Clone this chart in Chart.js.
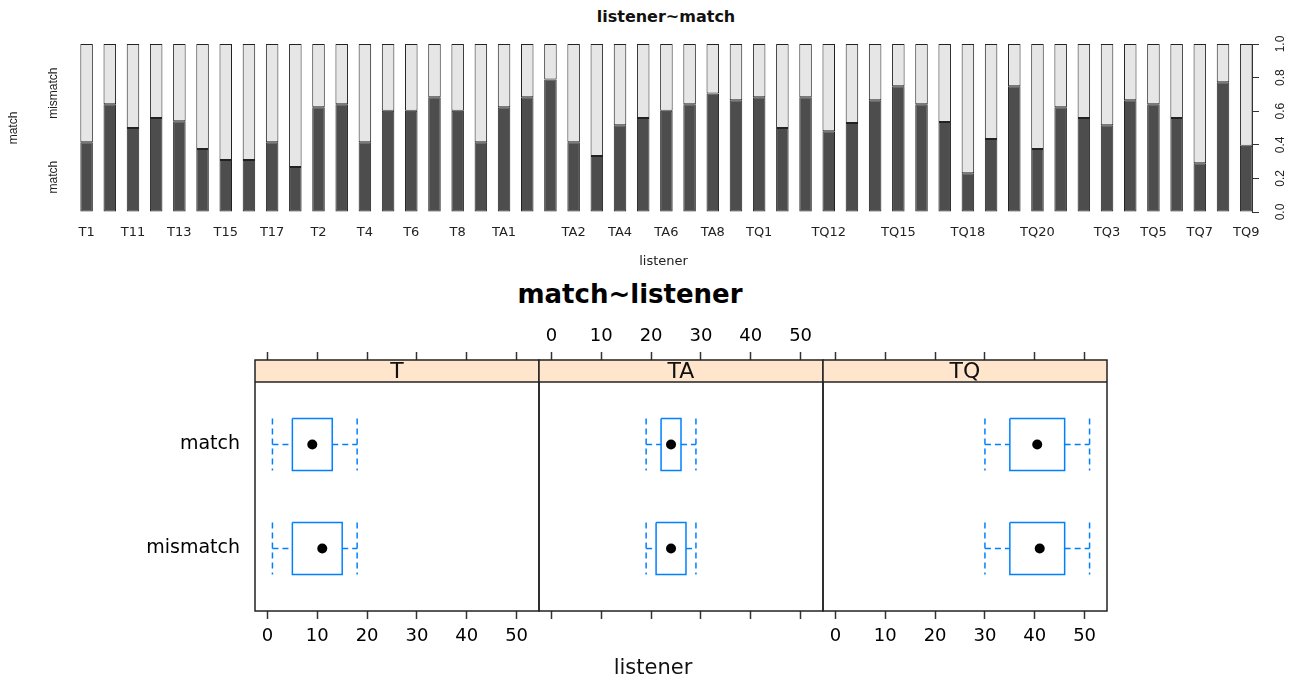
<!DOCTYPE html>
<html><head><meta charset="utf-8">
<script src="https://cdn.jsdelivr.net/npm/chart.js@4/dist/chart.umd.min.js"></script>
<style>
html,body{margin:0;padding:0;background:#fff;}
#wrap{position:relative;width:1298px;height:680px;overflow:hidden;background:#fff;}
canvas{position:absolute;}
.t{position:absolute;white-space:nowrap;font-family:"DejaVu Sans";line-height:1;color:#000;transform:translateX(-50%);}
</style></head><body>
<div id="wrap">
  <div class="t" style="left:666px;top:9px;font-size:16px;font-weight:bold;color:#111;">listener~match</div>
  <canvas id="top" width="1298" height="275" style="left:0;top:0;width:1298px;height:275px"></canvas>
  <div class="t" style="left:630px;top:281px;font-size:26px;font-weight:bold;">match~listener</div>
  <canvas id="pT" width="445" height="360" style="left:100px;top:300px;width:445px;height:360px"></canvas>
  <canvas id="pTA" width="296" height="360" style="left:533px;top:300px;width:296px;height:360px"></canvas>
  <canvas id="pTQ" width="296" height="360" style="left:817px;top:300px;width:296px;height:360px"></canvas>
  <div class="t" style="left:653px;top:657px;font-size:21px;color:#111;">listener</div>
</div>
<script>
// ---------- data: top spineplot ----------
const listeners = ['T1','T10','T11','T12','T13','T14','T15','T16','T17','T18','T2','T3','T4','T5','T6','T7','T8','T9',
  'TA1','TA10','TA11','TA2','TA3','TA4','TA5','TA6','TA7','TA8','TA9',
  'TQ1','TQ10','TQ11','TQ12','TQ13','TQ14','TQ15','TQ16','TQ17','TQ18','TQ19','TQ2','TQ20','TQ21','TQ22','TQ3','TQ4','TQ5','TQ6','TQ7','TQ8','TQ9'];
const matchShare = [0.415,0.641,0.5,0.56,0.54,0.375,0.31,0.31,0.415,0.268,0.623,0.641,0.415,0.603,0.603,0.683,0.603,0.415,
  0.623,0.683,0.788,0.415,0.333,0.516,0.56,0.603,0.641,0.706,0.665,
  0.683,0.5,0.683,0.48,0.53,0.665,0.748,0.641,0.536,0.23,0.435,0.748,0.375,0.623,0.56,0.516,0.665,0.641,0.56,0.29,0.772,0.395];
const mismatchShare = matchShare.map(v => +(1 - v).toFixed(3));
const shownListenerLabels = ['T1','T11','T13','T15','T17','T2','T4','T6','T8','TA1','TA2','TA4','TA6','TA8','TQ1','TQ12','TQ15','TQ18','TQ20','TQ3','TQ5','TQ7','TQ9'];
const propTicks = [0, 0.2, 0.4, 0.6, 0.8, 1.0];
const matchLevels = ['match', 'mismatch'];

// ---------- data: bottom bwplot (min, q1, median, q3, max) ----------
const panels = ['T', 'TA', 'TQ'];
const T_match = [1, 5, 9, 13, 18];
const T_mismatch = [1, 5, 11, 15, 18];
const TA_match = [19, 22, 24, 26, 29];
const TA_mismatch = [19, 21, 24, 27, 29];
const TQ_match = [30, 35, 40.5, 46, 51];
const TQ_mismatch = [30, 35, 41, 46, 51];
const listenerTicks = [0, 10, 20, 30, 40, 50];

// ---------- top chart ----------
const spineLabels = {
  id: 'spineLabels',
  afterDraw(chart) {
    const {ctx, chartArea: a, scales: {y}} = chart;
    const rot = (txt, x, yy) => { ctx.save(); ctx.translate(x, yy); ctx.rotate(-Math.PI / 2); ctx.fillText(txt, 0, 0); ctx.restore(); };
    ctx.save();
    ctx.fillStyle = '#222';
    ctx.font = '12px "Liberation Sans"';
    ctx.textAlign = 'center';
    ctx.textBaseline = 'middle';
    propTicks.forEach(v => rot(v.toFixed(1), a.right + 29, y.getPixelForValue(v)));
    const first = matchShare[0];
    rot(matchLevels[0], a.left - 21.5, y.getPixelForValue(first / 2));
    rot(matchLevels[1], a.left - 21.5, y.getPixelForValue((first + 1) / 2));
    rot('match', a.left - 61, (a.top + a.bottom) / 2);
    ctx.restore();
  }
};

new Chart(document.getElementById('top'), {
  type: 'bar',
  data: {
    datasets: [
      {label: 'match', data: listeners.map((c, i) => ({x: i, y: matchShare[i]})),
       backgroundColor: '#4d4d4d', borderColor: '#222', borderWidth: 1, borderSkipped: false},
      {label: 'mismatch', data: listeners.map((c, i) => ({x: i, y: mismatchShare[i]})),
       backgroundColor: '#e6e6e6', borderColor: '#222', borderWidth: 1, borderSkipped: false}
    ]
  },
  options: {
    responsive: false, animation: false,
    layout: {padding: {left: 75, top: 44, right: 0, bottom: 0}},
    datasets: {bar: {categoryPercentage: 1, barPercentage: 0.54}},
    plugins: {legend: {display: false}, tooltip: {enabled: false}},
    scales: {
      x: {
        type: 'linear', stacked: true, offset: false, min: -0.5, max: 50.25,
        afterBuildTicks: s => { s.ticks = shownListenerLabels.map(l => ({value: listeners.indexOf(l)})); },
        afterFit: s => { s.height = 63; s.paddingLeft = 0; s.paddingRight = 0; },
        grid: {display: false, drawTicks: false, offset: false}, border: {display: false},
        ticks: {autoSkip: false, maxRotation: 0, minRotation: 0, padding: 13,
                font: {family: 'DejaVu Sans', size: 13}, color: '#222',
                callback: v => listeners[v]},
        title: {display: true, text: 'listener', font: {family: 'DejaVu Sans', size: 13}, color: '#222',
                padding: {top: 0, bottom: 6}}
      },
      y: {
        position: 'right', stacked: true, min: 0, max: 1,
        afterBuildTicks: s => { s.ticks = propTicks.map(v => ({value: v})); },
        afterFit: s => { s.width = 46; s.paddingTop = 0; s.paddingBottom = 0; },
        grid: {drawOnChartArea: false, tickLength: 7, tickColor: '#333', tickWidth: 1},
        border: {display: true, color: '#333', width: 1},
        ticks: {callback: () => ''}
      }
    }
  },
  plugins: [spineLabels]
});

// ---------- bottom panels ----------
const BOX_HALF = 0.25;
const Y_TOP = 0.4, Y_BOTTOM = 2.6;
const STRIP_UNITS = 22 / (229 / 2.2);
const boxBlue = '#0080ff';

function panelDatasets(stats) {
  const ds = [];
  stats.forEach((s, k) => {
    const lvl = k + 1;
    ds.push({data: [{x: s[1], y: lvl - BOX_HALF}, {x: s[3], y: lvl - BOX_HALF}, {x: s[3], y: lvl + BOX_HALF}, {x: s[1], y: lvl + BOX_HALF}, {x: s[1], y: lvl - BOX_HALF}],
             showLine: true, borderColor: boxBlue, borderWidth: 1.5, pointRadius: 0, fill: false});
    ds.push({data: [{x: s[0], y: lvl}, {x: s[1], y: lvl}], showLine: true, borderColor: boxBlue, borderWidth: 1.5, borderDash: [6, 4], pointRadius: 0});
    ds.push({data: [{x: s[3], y: lvl}, {x: s[4], y: lvl}], showLine: true, borderColor: boxBlue, borderWidth: 1.5, borderDash: [6, 4], pointRadius: 0});
    ds.push({data: [{x: s[0], y: lvl - BOX_HALF}, {x: s[0], y: lvl + BOX_HALF}], showLine: true, borderColor: boxBlue, borderWidth: 1.5, borderDash: [6, 4], pointRadius: 0});
    ds.push({data: [{x: s[4], y: lvl - BOX_HALF}, {x: s[4], y: lvl + BOX_HALF}], showLine: true, borderColor: boxBlue, borderWidth: 1.5, borderDash: [6, 4], pointRadius: 0});
    ds.push({data: [{x: s[2], y: lvl}], showLine: false, pointRadius: 5, pointBackgroundColor: '#000', pointBorderColor: '#000', pointBorderWidth: 0});
  });
  return ds;
}

const stripPlugin = name => ({
  id: 'strip' + name,
  beforeDatasetsDraw(chart) {
    const {ctx, chartArea: a, scales: {y}} = chart;
    const sb = y.getPixelForValue(Y_TOP);
    ctx.save();
    ctx.fillStyle = '#ffe5cc';
    ctx.fillRect(a.left, a.top, a.right - a.left, sb - a.top);
    ctx.fillStyle = '#111';
    ctx.font = '22px "DejaVu Sans"';
    ctx.textAlign = 'center';
    ctx.textBaseline = 'middle';
    ctx.fillText(name, (a.left + a.right) / 2, (a.top + sb) / 2 + 1);
    ctx.restore();
  },
  afterDatasetsDraw(chart) {
    const {ctx, chartArea: a, scales: {y}} = chart;
    const sb = y.getPixelForValue(Y_TOP);
    ctx.save();
    ctx.strokeStyle = '#222';
    ctx.lineWidth = 1.5;
    ctx.strokeRect(a.left, a.top, a.right - a.left, a.bottom - a.top);
    ctx.beginPath(); ctx.moveTo(a.left, sb); ctx.lineTo(a.right, sb); ctx.stroke();
    ctx.restore();
  }
});

function makePanel(canvasId, idx, stats, cfg) {
  const axisTicks = {
    autoSkip: false, maxRotation: 0, minRotation: 0,
    font: {family: 'DejaVu Sans', size: 18}, color: '#000'
  };
  const gridOpt = {drawOnChartArea: false, tickLength: 8, tickWidth: 1.5, tickColor: '#333'};
  new Chart(document.getElementById(canvasId), {
    type: 'scatter',
    data: {datasets: panelDatasets(stats)},
    options: {
      responsive: false, animation: false,
      layout: {padding: {left: cfg.padLeft, right: 6, top: 0, bottom: 0}},
      plugins: {legend: {display: false}, tooltip: {enabled: false}},
      scales: {
        x: {
          type: 'linear', position: 'bottom', min: -2.5, max: 54.5,
          afterBuildTicks: s => { s.ticks = listenerTicks.map(v => ({value: v})); },
          afterFit: s => { s.height = 49; s.paddingLeft = 0; s.paddingRight = 0; },
          grid: gridOpt, border: {display: false},
          ticks: Object.assign({}, axisTicks, {padding: 7, callback: v => cfg.bottomLabels ? String(v) : ''})
        },
        x2: {
          type: 'linear', position: 'top', min: -2.5, max: 54.5,
          afterBuildTicks: s => { s.ticks = listenerTicks.map(v => ({value: v})); },
          afterFit: s => { s.height = 60; s.paddingLeft = 0; s.paddingRight = 0; },
          grid: gridOpt, border: {display: false},
          ticks: Object.assign({}, axisTicks, {padding: 5, callback: v => cfg.topLabels ? String(v) : ''})
        },
        y: {
          type: 'linear', min: Y_TOP - STRIP_UNITS, max: Y_BOTTOM, reverse: true,
          display: cfg.yAxis,
          afterBuildTicks: s => { s.ticks = matchLevels.map((l, i) => ({value: i + 1})); },
          afterFit: s => { s.width = cfg.yAxis ? 155 : 0; s.paddingTop = 0; s.paddingBottom = 0; },
          grid: {display: false, drawTicks: false}, border: {display: false},
          ticks: {callback: v => matchLevels[v - 1], font: {family: 'DejaVu Sans', size: 19}, color: '#000', padding: 15}
        }
      }
    },
    plugins: [stripPlugin(panels[idx])]
  });
}

makePanel('pT', 0, [T_match, T_mismatch], {padLeft: 0, yAxis: true, topLabels: false, bottomLabels: true});
makePanel('pTA', 1, [TA_match, TA_mismatch], {padLeft: 6, yAxis: false, topLabels: true, bottomLabels: false});
makePanel('pTQ', 2, [TQ_match, TQ_mismatch], {padLeft: 6, yAxis: false, topLabels: false, bottomLabels: true});
</script>
</body></html>
